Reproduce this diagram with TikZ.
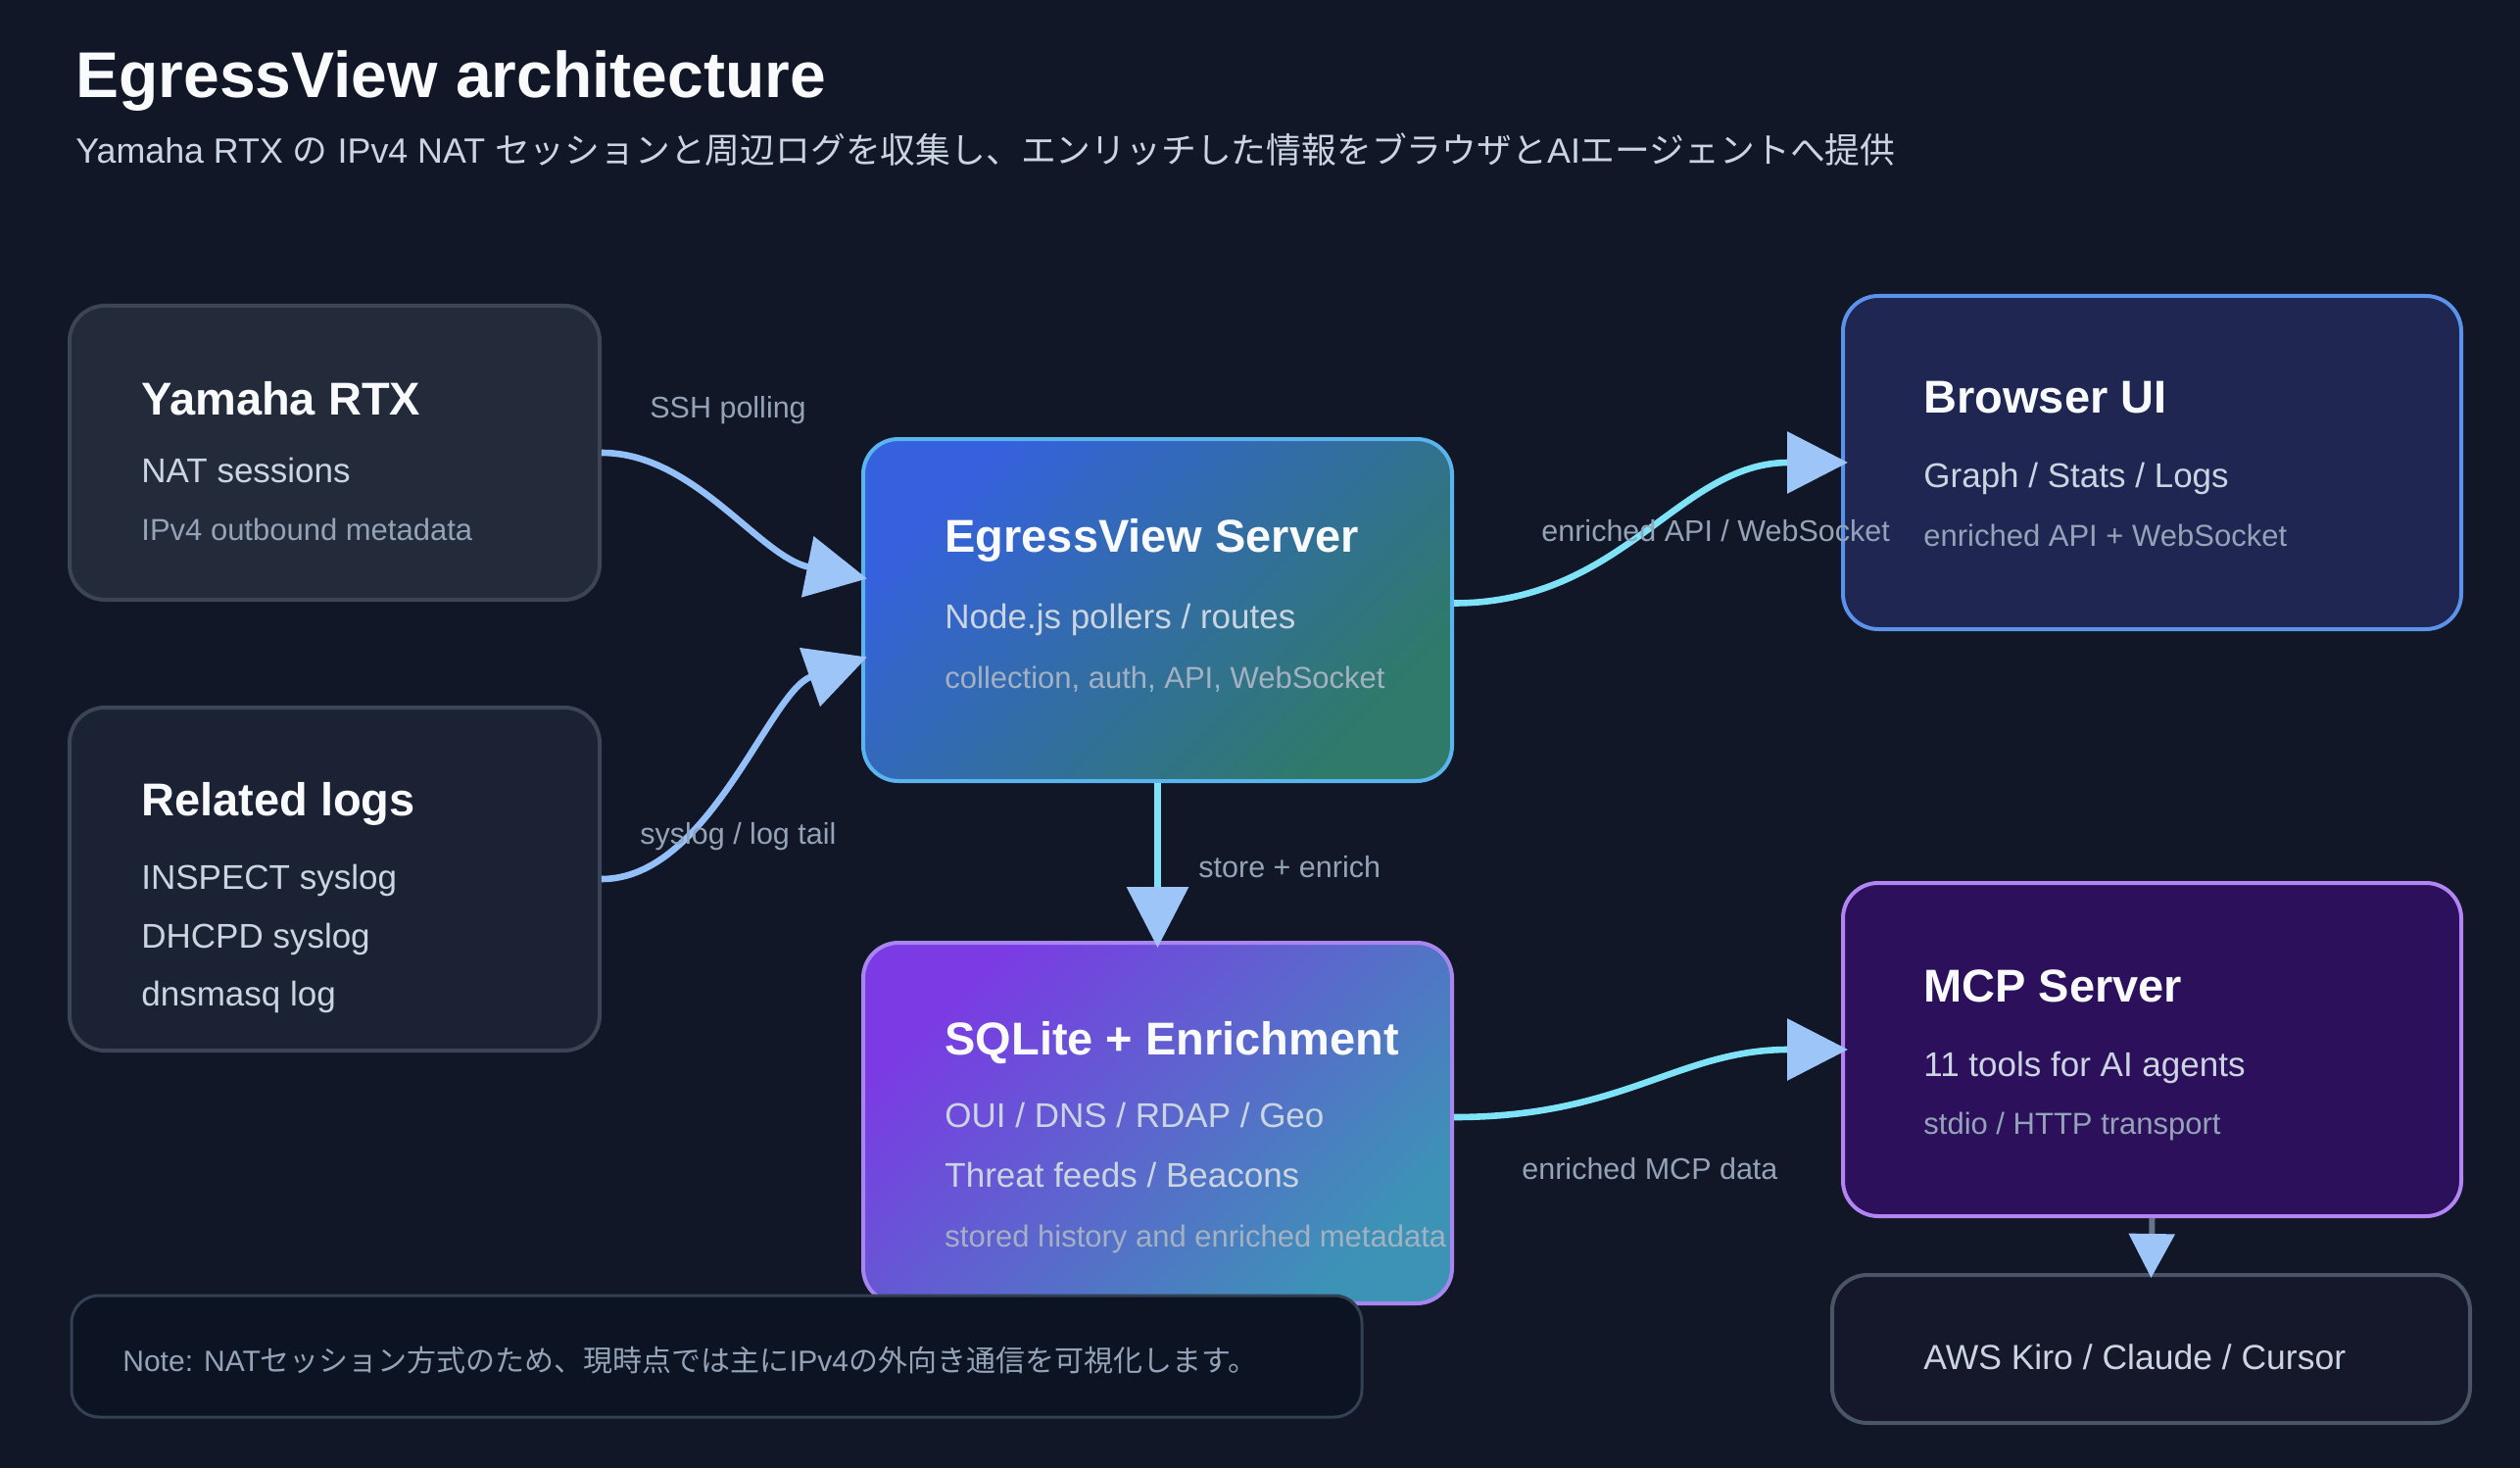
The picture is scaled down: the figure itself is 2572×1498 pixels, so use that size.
\documentclass[tikz,border=0pt]{standalone}
\usepackage{fontspec}
\setmainfont{Liberation Sans}
\newfontfamily\jp{Noto Sans CJK JP}
\usetikzlibrary{arrows.meta,calc}
\definecolor{bg}{HTML}{111726}
\definecolor{ctitle}{HTML}{F8FAFC}
\definecolor{ctwo}{HTML}{CBD5E1}
\definecolor{cthree}{HTML}{94A3B8}
\definecolor{slatefill}{HTML}{232B3B}
\definecolor{logfill}{HTML}{1A2233}
\definecolor{slateline}{HTML}{3B4556}
\definecolor{srvA}{HTML}{3561DE}
\definecolor{srvB}{HTML}{2F7A68}
\definecolor{srvline}{HTML}{5AB4EE}
\definecolor{sqlA}{HTML}{7B3AE4}
\definecolor{sqlB}{HTML}{3C93B6}
\definecolor{sqlline}{HTML}{A886F0}
\definecolor{brofill}{HTML}{1E2651}
\definecolor{broline}{HTML}{5B93EA}
\definecolor{mcpfill}{HTML}{2C105C}
\definecolor{mcpline}{HTML}{B384F3}
\definecolor{awsfill}{HTML}{15172A}
\definecolor{awsline}{HTML}{4A5568}
\definecolor{notefill}{HTML}{0C1322}
\definecolor{noteline}{HTML}{334155}
\definecolor{tipblue}{HTML}{9EC5F8}
\definecolor{lineblue}{HTML}{93C0F8}
\definecolor{linecyan}{HTML}{7EE3F6}
\definecolor{linegray}{HTML}{64748B}
\begin{document}
\begin{tikzpicture}[x=0.5pt,y=-0.5pt,
  box/.style={rounded corners=18pt, line width=2pt, inner sep=0pt},
  ttl/.style={anchor=base west, inner sep=0pt, text=ctitle, font=\fontsize{23.5}{28}\selectfont\bfseries},
  ltwo/.style={anchor=base west, inner sep=0pt, text=ctwo, font=\fontsize{17.5}{21}\selectfont},
  lthree/.style={anchor=base west, inner sep=0pt, text=cthree, font=\fontsize{15.5}{19}\selectfont},
  elab/.style={anchor=base west, inner sep=0pt, text=cthree, font=\fontsize{15.25}{18}\selectfont},
  conn/.style={line width=3.3pt, -{Triangle[length=31pt,width=31pt,color=tipblue]}},
]
\useasboundingbox[fill=bg] (0,0) rectangle (2572,1498);

% heading
\node[anchor=base west, inner sep=0pt, text=ctitle, font=\fontsize{33}{40}\selectfont\bfseries] (title) at (77,100) {EgressView architecture};
\node[anchor=base west, inner sep=0pt, text=ctwo, font=\fontsize{17.9}{21}\selectfont] (subtitle) at (77,167)
  {Yamaha RTX {\jp の} IPv4 NAT {\jp セッションと周辺ログを収集し、エンリッチした情報をブラウザと}AI{\jp エージェントへ提供}};

% boxes
\node[box, draw=slateline, fill=slatefill, minimum width=270.5pt, minimum height=150pt] (yam) at (341.5,462) {};
\node[box, draw=slateline, fill=logfill, minimum width=270.5pt, minimum height=175pt] (rel) at (341.5,897) {};
\node[box, draw=srvline, top color=srvA, bottom color=srvB, shading angle=45, minimum width=300.5pt, minimum height=174.5pt] (srv) at (1181.5,622.5) {};
\node[box, draw=sqlline, top color=sqlA, bottom color=sqlB, shading angle=45, minimum width=300.5pt, minimum height=184pt] (sql) at (1181.5,1146) {};
\node[box, draw=broline, fill=brofill, minimum width=315.5pt, minimum height=170pt] (bro) at (2196.5,472) {};
\node[box, draw=mcpline, fill=mcpfill, minimum width=315.5pt, minimum height=170pt] (mcp) at (2196.5,1071) {};
\node[box, draw=awsline, fill=awsfill, minimum width=325.5pt, minimum height=75.5pt] (aws) at (2195.5,1376.5) {};
\node[box, draw=noteline, fill=notefill, line width=1.5pt, rounded corners=14pt, minimum width=658.5pt, minimum height=62pt] (note) at (731.5,1384) {};

% box texts
\node[ttl] (yamT) at (144,423) {Yamaha RTX};
\node[ltwo] (yamA) at (144,492) {NAT sessions};
\node[lthree] (yamB) at (144,551) {IPv4 outbound metadata};

\node[ttl] (relT) at (144,832) {Related logs};
\node[ltwo] (relA) at (144,907) {INSPECT syslog};
\node[ltwo] (relB) at (144,967) {DHCPD syslog};
\node[ltwo] (relC) at (144,1026) {dnsmasq log};

\node[ttl] (srvT) at (964,563) {EgressView Server};
\node[ltwo] (srvA1) at (964,641) {Node.js pollers / routes};
\node[lthree, text=cthree!85!white] (srvB1) at (964,702) {collection, auth, API, WebSocket};

\node[ttl] (sqlT) at (964,1076) {SQLite + Enrichment};
\node[ltwo] (sqlA1) at (964,1150) {OUI / DNS / RDAP / Geo};
\node[ltwo] (sqlB1) at (964,1211) {Threat feeds / Beacons};
\node[lthree, text=cthree!85!white] (sqlC1) at (964,1272) {stored history and enriched metadata};

\node[ttl] (broT) at (1963,422) {Browser UI};
\node[ltwo] (broA) at (1963,497) {Graph / Stats / Logs};
\node[lthree] (broB) at (1963,557) {enriched API + WebSocket};

\node[ttl] (mcpT) at (1963,1022) {MCP Server};
\node[ltwo] (mcpA) at (1963,1098) {11 tools for AI agents};
\node[lthree] (mcpB) at (1963,1157) {stdio / HTTP transport};

\node[ltwo, font=\fontsize{17.75}{21}\selectfont] (awsT) at (1963,1397) {AWS Kiro / Claude / Cursor};

\node[elab, font=\fontsize{15}{18}\selectfont] (noteT) at (125,1399)
  {Note: NAT{\jp セッション方式のため、現時点では主に}IPv4{\jp の外向き通信を可視化します。}};

% connectors
\draw[conn, draw=lineblue] (yam.east) .. controls +(95,0) and +(-110,-22) .. ($(srv.west)+(6,-32)$);
\draw[conn, draw=lineblue] (rel.east) .. controls +(110,0) and +(-100,35) .. ($(srv.west)+(6,48)$);
\draw[conn, draw=linecyan] ($(srv.east)+(0,-7)$) .. controls +(173,0) and +(-173,0) .. ($(bro.west)+(7,0)$);
\draw[conn, draw=linecyan] (srv.south) -- ($(sql.north)+(0,7)$);
\draw[conn, draw=linecyan] ($(sql.east)+(0,-6)$) .. controls +(173,0) and +(-173,0) .. ($(mcp.west)+(7,0)$);
\draw[line width=3pt, draw=linegray, -{Triangle[length=22.5pt,width=23pt,color=tipblue]}] (mcp.south) -- ($(aws.north)+(0,5)$);

% connector labels
\node[elab] (lssh) at (663,427) {SSH polling};
\node[elab] (lsys) at (653,861) {syslog / log tail};
\node[elab] (lapi) at (1573,552) {enriched API / WebSocket};
\node[elab] (lstore) at (1223,895) {store + enrich};
\node[elab] (lmcp) at (1553,1203) {enriched MCP data};
\end{tikzpicture}
\end{document}
